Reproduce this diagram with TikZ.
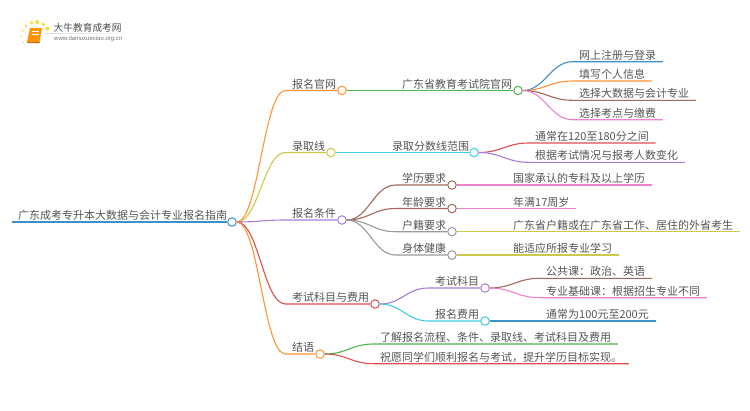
\documentclass[tikz,border=0pt]{standalone}
\usepackage{fontspec}
\setmainfont{Noto Sans CJK SC}
\newfontfamily\urlfont{Liberation Sans}
\usetikzlibrary{positioning,calc}
\definecolor{cblue}{HTML}{3F8FC8}
\definecolor{corange}{HTML}{FF9433}
\definecolor{cyellow}{HTML}{C9C94B}
\definecolor{cpurple}{HTML}{A67FD4}
\definecolor{cred}{HTML}{E04F4F}
\definecolor{cgreen}{HTML}{4DB34D}
\definecolor{ccyan}{HTML}{3CCFE0}
\definecolor{cbrown}{HTML}{A0685C}
\definecolor{cpink}{HTML}{EE82CC}
\definecolor{cgray}{HTML}{999999}
\definecolor{ctext}{HTML}{555555}
\tikzset{lbl/.style={anchor=south west, inner xsep=6.5pt, inner ysep=0pt, text height=9pt, text depth=2.2pt, text=ctext, font=\fontsize{11}{11}\selectfont}}
\tikzset{knob/.style={circle, draw=#1, fill=white, line width=1pt, minimum size=8.5pt, inner sep=0pt}}
\tikzset{lnk/.style={draw=#1, line width=1.1pt}}
\tikzset{swerve/.style={out=0, in=180, distance=#1}, swerve/.default=22pt}
\begin{document}
\begin{tikzpicture}[x=1pt, y=-1pt]
	\useasboundingbox (0,0) rectangle (750,410);
	% logo
	\foreach \dx/\dy/\rr in {21.3/36.7/.9, 23.3/42.3/.8, 22.7/30.7/1.1, 26/26/1.5, 31.7/22.7/1.8, 37.3/22/2, 43.3/24.3/1.9, 47.3/28.7/2.1}
		\fill[yellow!75!orange!80] (\dx,\dy) circle (\rr pt);
	\fill[orange!85!yellow] (30,28) -- (42,28) -- (39.5,42) -- (27,42) -- cycle;
	\fill[orange!80!black] (27,42) -- (39.5,42) -- (40,43) -- (28,43) -- cycle;
	\draw[white, line width=.5pt] (32,31.5) -- (39,31.5) (31.5,34) -- (38.5,34);
	\shade[left color=gray!30, right color=white] (45,33) rectangle (133,33.7);
	\node[inner sep=0pt, anchor=west, text=black!70, font=\fontsize{9.7}{10}\selectfont] (logoname) at (53.5,27.5) {大牛教育成考网};
	\node[inner sep=0pt, anchor=west, text=black!55, font=\urlfont\fontsize{6}{6}\selectfont] (logourl) at (54,38.5) {www.daniuxuexiao.org.cn};
	% root and first level
	\node[lbl] (root) at (11.5,222) {广东成考专升本大数据与会计专业报名指南};
	\node[knob=cblue] (rootk) at (232,222) {};
	\draw[lnk=cblue] (root.south west) -- (rootk);
	\node[lbl] (site) at (285.5,90.5) {报名官网};
	\node[knob=corange] (sitek) at (342,90.5) {};
	\node[lbl] (score) at (285.5,152.5) {录取线};
	\node[knob=cyellow] (scorek) at (331,152.5) {};
	\node[lbl] (cond) at (285.5,220) {报名条件};
	\node[knob=cpurple] (condk) at (342,220) {};
	\node[lbl] (exam) at (285.5,304) {考试科目与费用};
	\node[knob=cred] (examk) at (375,304) {};
	\node[lbl] (outro) at (285.5,354) {结语};
	\node[knob=corange] (outrok) at (320,354) {};
	\draw[lnk=corange] (rootk) to[swerve] (site.south west) -- (sitek);
	\draw[lnk=cyellow] (rootk) to[swerve] (score.south west) -- (scorek);
	\draw[lnk=cpurple] (rootk) to[swerve] (cond.south west) -- (condk);
	\draw[lnk=cred] (rootk) to[swerve] (exam.south west) -- (examk);
	\draw[lnk=corange] (rootk) to[swerve] (outro.south west) -- (outrok);
	% 报名官网
	\node[lbl] (prov) at (395.5,90.5) {广东省教育考试院官网};
	\node[knob=cgreen] (provk) at (518,90.5) {};
	\draw[lnk=cgreen] (sitek) -- (provk);
	\node[lbl] (reg) at (572.5,61.7) {网上注册与登录};
	\node[lbl] (info) at (572.5,81) {填写个人信息};
	\node[lbl] (major) at (572.5,100.3) {选择大数据与会计专业};
	\node[lbl] (pay) at (572.5,119.7) {选择考点与缴费};
	\draw[lnk=cblue] (provk) to[swerve] (reg.south west) -- (reg.south east);
	\draw[lnk=corange] (provk) to[swerve] (info.south west) -- (info.south east);
	\draw[lnk=cbrown] (provk) to[swerve] (major.south west) -- (major.south east);
	\draw[lnk=cpink] (provk) to[swerve] (pay.south west) -- (pay.south east);
	% 录取线
	\node[lbl] (range) at (385.5,152.5) {录取分数线范围};
	\node[knob=ccyan] (rangek) at (474,152.5) {};
	\draw[lnk=ccyan] (scorek) -- (rangek);
	\node[lbl] (usual) at (528.5,143) {通常在120至180分之间};
	\node[lbl] (vary) at (528.5,162.3) {根据考试情况与报考人数变化};
	\draw[lnk=cred] (rangek) to[swerve] (usual.south west) -- (usual.south east);
	\draw[lnk=cpurple] (rangek) to[swerve] (vary.south west) -- (vary.south east);
	% 报名条件
	\node[lbl] (edu) at (395.5,185) {学历要求};
	\node[knob=cbrown] (eduk) at (452,185) {};
	\node[lbl] (age) at (395.5,208.5) {年龄要求};
	\node[knob=cbrown] (agek) at (452,208.5) {};
	\node[lbl] (hukou) at (395.5,231.7) {户籍要求};
	\node[knob=cgray] (hukouk) at (452,231.7) {};
	\node[lbl] (health) at (395.5,255) {身体健康};
	\node[knob=cgray] (healthk) at (452,255) {};
	\draw[lnk=cbrown] (condk) to[swerve] (edu.south west) -- (eduk);
	\draw[lnk=cbrown] (condk) to[swerve] (age.south west) -- (agek);
	\draw[lnk=cgray] (condk) to[swerve] (hukou.south west) -- (hukouk);
	\draw[lnk=cgray] (condk) to[swerve] (health.south west) -- (healthk);
	\node[lbl] (edut) at (506.5,185) {国家承认的专科及以上学历};
	\node[lbl] (aget) at (506.5,208.5) {年满17周岁};
	\node[lbl] (hukout) at (506.5,231.7) {广东省户籍或在广东省工作、居住的外省考生};
	\node[lbl] (healtht) at (506.5,255) {能适应所报专业学习};
	\draw[lnk=cpink] (eduk) -- (edut.south east);
	\draw[lnk=cpink] (agek) -- (aget.south east);
	\draw[lnk=cyellow] (hukouk) -- (hukout.south east);
	\draw[lnk=cyellow] (healthk) -- (healtht.south east);
	% 考试科目与费用
	\node[lbl] (subj) at (428.5,288) {考试科目};
	\node[knob=cpurple] (subjk) at (485,288) {};
	\node[lbl] (fee) at (428.5,321) {报名费用};
	\node[knob=ccyan] (feek) at (485,321) {};
	\draw[lnk=cpurple] (examk) to[swerve] (subj.south west) -- (subjk);
	\draw[lnk=ccyan] (examk) to[swerve] (fee.south west) -- (feek);
	\node[lbl] (pub) at (539.5,278.3) {公共课：政治、英语};
	\node[lbl] (base) at (539.5,297.7) {专业基础课：根据招生专业不同};
	\node[lbl] (feet) at (539.5,321) {通常为100元至200元};
	\draw[lnk=cbrown] (subjk) to[swerve] (pub.south west) -- (pub.south east);
	\draw[lnk=cpink] (subjk) to[swerve] (base.south west) -- (base.south east);
	\draw[lnk=cblue] (feek) -- (feet.south east);
	% 结语
	\node[lbl] (learn) at (373.5,344) {了解报名流程、条件、录取线、考试科目及费用};
	\node[lbl] (wish) at (373.5,363.7) {祝愿同学们顺利报名与考试，提升学历目标实现。};
	\draw[lnk=cgreen] (outrok) to[swerve] (learn.south west) -- (learn.south east);
	\draw[lnk=cred] (outrok) to[swerve] (wish.south west) -- (wish.south east);
\end{tikzpicture}
\end{document}
